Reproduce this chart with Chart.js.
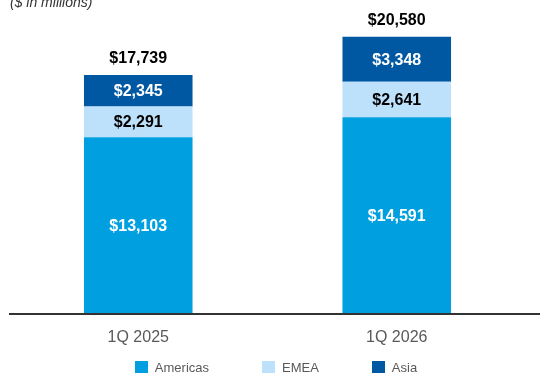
<!DOCTYPE html>
<html>
<head>
<meta charset="utf-8">
<script src="https://cdn.jsdelivr.net/npm/chart.js@4/dist/chart.umd.min.js"></script>
<style>
  body { margin: 0; background: #fff; font-family: "Liberation Sans", Arial, sans-serif; }
  .wrap { position: relative; width: 540px; height: 374px; overflow: hidden; }
  .units { position: absolute; left: 10px; top: -5px; font-size: 14px; line-height: 14px; font-style: italic; color: #333; }
  .plot { position: absolute; left: 0; top: 0; width: 540px; height: 367px; }
  #legend { position: absolute; left: 0; top: 361px; width: 540px; padding-left: 12px; box-sizing: border-box;
            display: flex; justify-content: center; gap: 53px; font-size: 13px; line-height: 13px; color: #595959; }
  #legend .box { display: inline-block; width: 13px; height: 12px; margin-right: 7px; vertical-align: top; }
</style>
</head>
<body>
<div class="wrap">
  <div class="plot"><canvas id="revenueChart"></canvas></div>
  <div class="units">($ in millions)</div>
  <div id="legend"></div>
</div>
<script>
const quarters = ['1Q 2025', '1Q 2026'];
const americas = [13103, 14591];
const emea = [2291, 2641];
const asia = [2345, 3348];
const totals = [17739, 20580];

const money = v => '$' + v.toLocaleString('en-US');

// segment values in the middle of each block, totals above each stack
const barLabels = {
    id: 'barLabels',
    afterDatasetsDraw(chart) {
        const ctx = chart.ctx;
        ctx.save();
        ctx.font = 'bold 16px "Liberation Sans", Arial, sans-serif';
        ctx.textAlign = 'center';
        ctx.textBaseline = 'middle';
        chart.data.datasets.forEach((ds, i) => {
            chart.getDatasetMeta(i).data.forEach((bar, j) => {
                ctx.fillStyle = ds.labelColor;
                ctx.fillText(money(ds.data[j]), bar.x, (bar.y + bar.base) / 2 + 1);
            });
        });
        const topMeta = chart.getDatasetMeta(chart.data.datasets.length - 1);
        ctx.fillStyle = '#000';
        topMeta.data.forEach((bar, j) => {
            ctx.fillText(money(totals[j]), bar.x, bar.y - 16);
        });
        ctx.restore();
    }
};

// zero line runs out to the right edge of the canvas
const baseline = {
    id: 'baseline',
    afterDatasetsDraw(chart) {
        const {ctx, chartArea, scales} = chart;
        const y = Math.round(scales.y.getPixelForValue(0));
        ctx.save();
        ctx.strokeStyle = '#333';
        ctx.lineWidth = 2;
        ctx.beginPath();
        ctx.moveTo(chartArea.left, y);
        ctx.lineTo(chart.width, y);
        ctx.stroke();
        ctx.restore();
    }
};

Chart.defaults.font.family = '"Liberation Sans", Arial, sans-serif';

const ctx = document.getElementById('revenueChart').getContext('2d');
const revenueChart = new Chart(ctx, {
    type: 'bar',
    data: {
        labels: quarters,
        datasets: [
            { label: 'Americas', data: americas, backgroundColor: '#00a0e0', labelColor: '#fff' },
            { label: 'EMEA', data: emea, backgroundColor: '#bde0fb', labelColor: '#000' },
            { label: 'Asia', data: asia, backgroundColor: '#0058a3', labelColor: '#fff' }
        ]
    },
    options: {
        responsive: true,
        maintainAspectRatio: false,
        animation: false,
        layout: {
            padding: { left: 9, right: 14, top: 0, bottom: 6 }
        },
        datasets: {
            bar: { categoryPercentage: 1, barPercentage: 0.42, borderWidth: 0 }
        },
        plugins: {
            legend: { display: false },
            tooltip: { enabled: false }
        },
        scales: {
            x: {
                stacked: true,
                grid: { display: false, drawTicks: false },
                border: { display: false },
                ticks: {
                    color: '#595959',
                    padding: 14,
                    font: { size: 16 }
                }
            },
            y: {
                stacked: true,
                display: false,
                min: 0,
                max: 23300
            }
        }
    },
    plugins: [barLabels, baseline]
});

// legend row under the chart
const legendEl = document.getElementById('legend');
revenueChart.data.datasets.forEach(ds => {
    const item = document.createElement('div');
    const box = document.createElement('span');
    box.className = 'box';
    box.style.background = ds.backgroundColor;
    item.appendChild(box);
    item.appendChild(document.createTextNode(ds.label));
    legendEl.appendChild(item);
});
</script>
</body>
</html>
